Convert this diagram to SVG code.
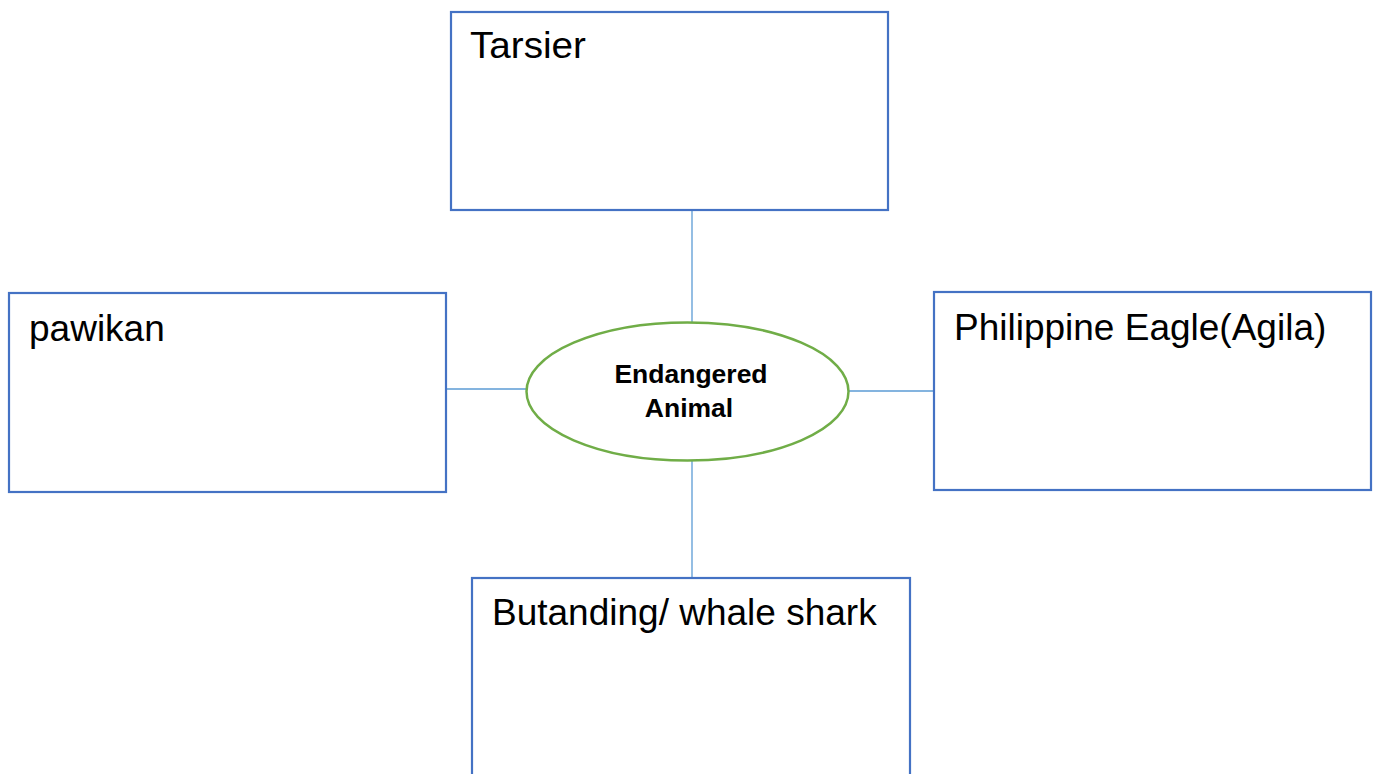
<svg xmlns="http://www.w3.org/2000/svg" width="1377" height="774" viewBox="0 0 1377 774">
<style>
.box{fill:#fff;stroke:#4472C4;stroke-width:2.2}
.lbl{font-family:"Liberation Sans",Arial,sans-serif;font-size:37px;fill:#000}
.ctr{font-family:"Liberation Sans",Arial,sans-serif;font-size:26.5px;font-weight:bold;fill:#000;text-anchor:middle}
.conn{stroke:#5B9BD5;stroke-width:1.3;fill:none}
</style>
<rect width="1377" height="774" fill="#fff"/>
<g id="connectors">
<line class="conn" x1="692" y1="210" x2="692" y2="323"/>
<line class="conn" x1="692" y1="461" x2="692" y2="578"/>
<line class="conn" x1="446" y1="389" x2="526" y2="389"/>
<line class="conn" x1="849" y1="391" x2="934" y2="391"/>
</g>
<g id="tarsier">
<rect class="box" x="451" y="12" width="437" height="198"/>
<text class="lbl" x="470" y="58" textLength="116" lengthAdjust="spacingAndGlyphs">Tarsier</text>
</g>
<g id="pawikan">
<rect class="box" x="9" y="293" width="437" height="199"/>
<text class="lbl" x="29" y="341">pawikan</text>
</g>
<g id="eagle">
<rect class="box" x="934" y="292" width="437" height="198"/>
<text class="lbl" x="954" y="340">Philippine Eagle(Agila)</text>
</g>
<g id="butanding">
<rect class="box" x="472" y="578" width="438" height="220"/>
<text class="lbl" x="492" y="625">Butanding/ whale shark</text>
</g>
<g id="center">
<ellipse cx="687.5" cy="391.5" rx="161" ry="69" fill="#fff" stroke="#70AD47" stroke-width="2.5"/>
<text class="ctr" x="691" y="383">Endangered</text>
<text class="ctr" x="689" y="417">Animal</text>
</g>
</svg>
